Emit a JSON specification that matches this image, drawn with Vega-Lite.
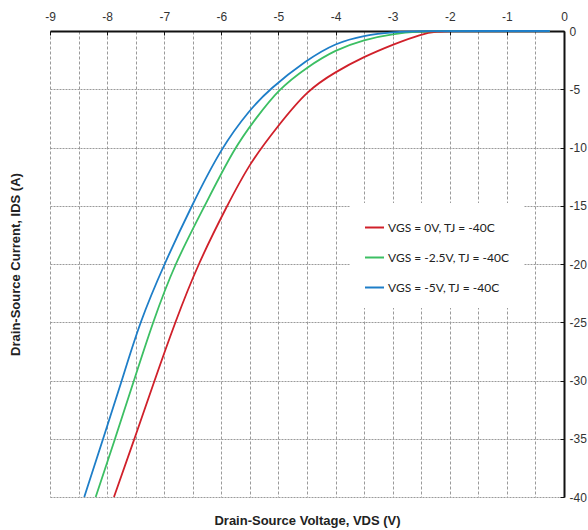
{
  "$schema": "https://vega.github.io/schema/vega-lite/v6.json",
  "width": 514,
  "height": 466,
  "autosize": {"type": "none"},
  "padding": {"left": 50, "top": 31, "right": 24, "bottom": 33},
  "background": "white",
  "config": {"view": {"stroke": null}, "font": "Liberation Sans"},
  "data": {
    "values": [
      {"s": "VGS = 0V, TJ = -40C", "v": -7.88, "i": -40},
      {"s": "VGS = 0V, TJ = -40C", "v": -7.52, "i": -35},
      {"s": "VGS = 0V, TJ = -40C", "v": -7.17, "i": -30},
      {"s": "VGS = 0V, TJ = -40C", "v": -6.81, "i": -25},
      {"s": "VGS = 0V, TJ = -40C", "v": -6.41, "i": -20},
      {"s": "VGS = 0V, TJ = -40C", "v": -5.9, "i": -15},
      {"s": "VGS = 0V, TJ = -40C", "v": -5.5, "i": -11.3},
      {"s": "VGS = 0V, TJ = -40C", "v": -5.0, "i": -8.1},
      {"s": "VGS = 0V, TJ = -40C", "v": -4.5, "i": -5.1},
      {"s": "VGS = 0V, TJ = -40C", "v": -4.0, "i": -3.5},
      {"s": "VGS = 0V, TJ = -40C", "v": -3.5, "i": -2.2},
      {"s": "VGS = 0V, TJ = -40C", "v": -3.0, "i": -1.17},
      {"s": "VGS = 0V, TJ = -40C", "v": -2.5, "i": -0.25},
      {"s": "VGS = 0V, TJ = -40C", "v": -2.2, "i": -0.03},
      {"s": "VGS = 0V, TJ = -40C", "v": -2.0, "i": 0},
      {"s": "VGS = 0V, TJ = -40C", "v": -1.5, "i": 0},
      {"s": "VGS = 0V, TJ = -40C", "v": -0.25, "i": 0},
      {"s": "VGS = -2.5V, TJ = -40C", "v": -8.2, "i": -40},
      {"s": "VGS = -2.5V, TJ = -40C", "v": -7.86, "i": -35},
      {"s": "VGS = -2.5V, TJ = -40C", "v": -7.53, "i": -30},
      {"s": "VGS = -2.5V, TJ = -40C", "v": -7.2, "i": -25},
      {"s": "VGS = -2.5V, TJ = -40C", "v": -6.82, "i": -20},
      {"s": "VGS = -2.5V, TJ = -40C", "v": -6.29, "i": -15},
      {"s": "VGS = -2.5V, TJ = -40C", "v": -5.77, "i": -10},
      {"s": "VGS = -2.5V, TJ = -40C", "v": -5.39, "i": -7.47},
      {"s": "VGS = -2.5V, TJ = -40C", "v": -5.0, "i": -5.0},
      {"s": "VGS = -2.5V, TJ = -40C", "v": -4.5, "i": -3.1},
      {"s": "VGS = -2.5V, TJ = -40C", "v": -4.0, "i": -1.6},
      {"s": "VGS = -2.5V, TJ = -40C", "v": -3.5, "i": -0.74},
      {"s": "VGS = -2.5V, TJ = -40C", "v": -3.0, "i": -0.23},
      {"s": "VGS = -2.5V, TJ = -40C", "v": -2.5, "i": -0.03},
      {"s": "VGS = -2.5V, TJ = -40C", "v": -2.2, "i": 0},
      {"s": "VGS = -2.5V, TJ = -40C", "v": -1.5, "i": 0},
      {"s": "VGS = -2.5V, TJ = -40C", "v": -0.25, "i": 0},
      {"s": "VGS = -5V, TJ = -40C", "v": -8.4, "i": -40},
      {"s": "VGS = -5V, TJ = -40C", "v": -8.07, "i": -35},
      {"s": "VGS = -5V, TJ = -40C", "v": -7.74, "i": -30},
      {"s": "VGS = -5V, TJ = -40C", "v": -7.43, "i": -25},
      {"s": "VGS = -5V, TJ = -40C", "v": -7.0, "i": -20},
      {"s": "VGS = -5V, TJ = -40C", "v": -6.52, "i": -15},
      {"s": "VGS = -5V, TJ = -40C", "v": -6.0, "i": -10},
      {"s": "VGS = -5V, TJ = -40C", "v": -5.5, "i": -6.75},
      {"s": "VGS = -5V, TJ = -40C", "v": -5.16, "i": -5.0},
      {"s": "VGS = -5V, TJ = -40C", "v": -4.5, "i": -2.46},
      {"s": "VGS = -5V, TJ = -40C", "v": -4.0, "i": -1.03},
      {"s": "VGS = -5V, TJ = -40C", "v": -3.5, "i": -0.37},
      {"s": "VGS = -5V, TJ = -40C", "v": -3.0, "i": -0.09},
      {"s": "VGS = -5V, TJ = -40C", "v": -2.5, "i": 0},
      {"s": "VGS = -5V, TJ = -40C", "v": -1.5, "i": 0},
      {"s": "VGS = -5V, TJ = -40C", "v": -0.25, "i": 0}
    ]
  },
  "layer": [
    {
      "mark": {"type": "line", "strokeOpacity": 0},
      "encoding": {
        "x": {
          "field": "v", "type": "quantitative",
          "scale": {"domain": [-9, 0], "nice": false, "zero": false},
          "axis": {
            "orient": "bottom", "title": "Drain-Source Voltage, VDS (V)",
            "values": [-9, -8.5, -8, -7.5, -7, -6.5, -6, -5.5, -5, -4.5, -4, -3.5, -3, -2.5, -2, -1.5, -1, -0.5, 0],
            "labels": false, "ticks": false, "domain": false,
            "grid": true, "gridColor": "#9a9a9a", "gridDash": [3, 2], "gridWidth": 1,
            "titleFont": "Liberation Sans", "titleFontSize": 13, "titleFontWeight": "bold",
            "titleColor": "#222", "titlePadding": 17
          }
        },
        "y": {
          "field": "i", "type": "quantitative",
          "scale": {"domain": [-40, 0], "nice": false, "zero": false},
          "axis": {
            "orient": "left", "title": "Drain-Source Current, IDS (A)",
            "values": [-40, -35, -30, -25, -20, -15, -10, -5, 0],
            "labels": false, "ticks": false, "domain": false,
            "grid": true, "gridColor": "#9a9a9a", "gridDash": [2, 1], "gridWidth": 1,
            "titleFont": "Liberation Sans", "titleFontSize": 13, "titleFontWeight": "bold",
            "titleColor": "#222", "titlePadding": 28
          }
        },
        "detail": {"field": "s", "type": "nominal"}
      }
    },
    {
      "mark": {"type": "line", "interpolate": "basis", "strokeWidth": 1.8},
      "encoding": {
        "x": {
          "field": "v", "type": "quantitative",
          "scale": {"domain": [-9, 0], "nice": false, "zero": false},
          "axis": {
            "orient": "top", "title": null,
            "values": [-9, -8, -7, -6, -5, -4, -3, -2, -1, 0],
            "labelExpr": "'' + datum.value",
            "grid": false, "domainColor": "#111", "domainWidth": 2,
            "tickColor": "#111", "tickSize": -4, "labelFlush": false,
            "labelFont": "Liberation Sans", "labelFontSize": 12, "labelColor": "#333", "labelPadding": 12
          }
        },
        "y": {
          "field": "i", "type": "quantitative",
          "scale": {"domain": [-40, 0], "nice": false, "zero": false},
          "axis": {
            "orient": "right", "title": null,
            "values": [-40, -35, -30, -25, -20, -15, -10, -5, 0],
            "labelExpr": "'' + datum.value",
            "grid": false, "domainColor": "#111", "domainWidth": 2,
            "tickColor": "#111", "tickSize": -4, "labelFlush": false,
            "labelFont": "Liberation Sans", "labelFontSize": 12, "labelColor": "#333", "labelPadding": 9
          }
        },
        "color": {
          "field": "s", "type": "nominal",
          "scale": {
            "domain": ["VGS = 0V, TJ = -40C", "VGS = -2.5V, TJ = -40C", "VGS = -5V, TJ = -40C"],
            "range": ["#d0202a", "#3cbf63", "#1e7ec8"]
          },
          "legend": {
            "orient": "none", "legendX": 300, "legendY": 172, "title": null,
            "fillColor": "white", "padding": 14,
            "symbolType": "stroke", "symbolSize": 361, "symbolStrokeWidth": 2,
            "labelFont": "Lato", "labelFontSize": 12, "labelColor": "#222",
            "rowPadding": 13, "labelOffset": 3, "labelLimit": 300
          }
        }
      }
    }
  ],
  "resolve": {"axis": {"x": "independent", "y": "independent"}}
}
